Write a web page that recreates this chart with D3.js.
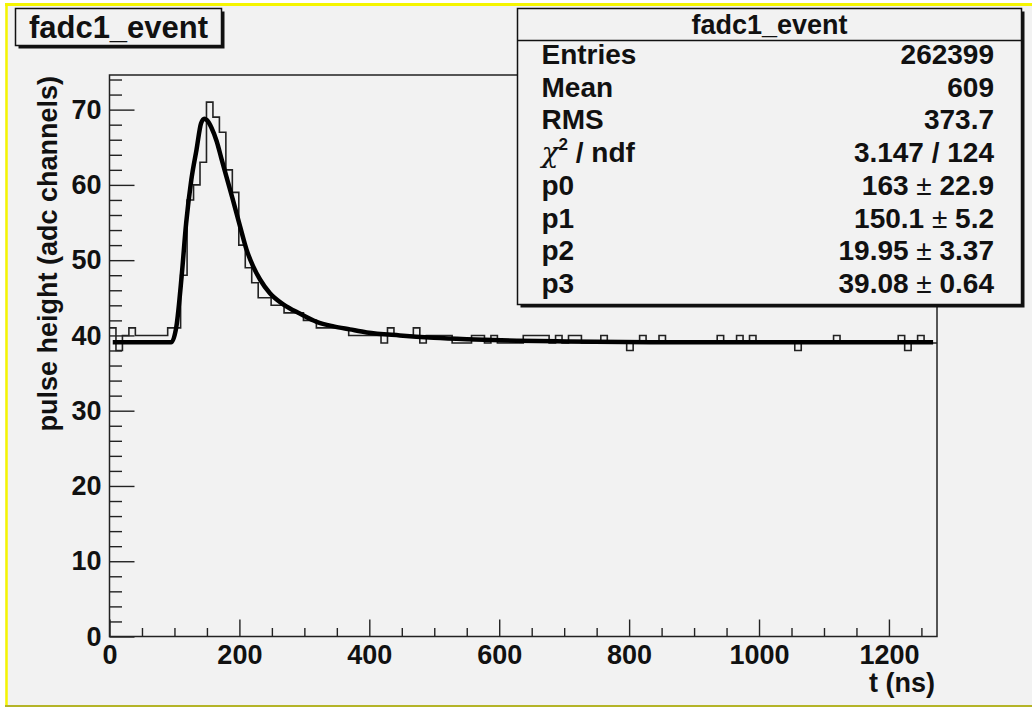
<!DOCTYPE html>
<html>
<head>
<meta charset="utf-8">
<script src="https://cdn.jsdelivr.net/npm/d3@7"></script>
<style>
  body { margin: 0; background: #ffffff; }
  text { font-family: "Liberation Sans", Arial, Helvetica, sans-serif; font-weight: bold; fill: #111; }
</style>
</head>
<body>
<script>
// histogram contents, 128 bins over 0..xMax ns
const binCounts = [
  41, 38, 40, 41, 40, 40, 40, 40, 40, 41,
  41, 48, 58, 60, 63, 71, 69, 67, 62, 59,
  52, 49, 47, 45, 45, 44, 44, 43, 43, 43,
  42, 42, 41, 41, 41, 41, 41, 40, 40, 40,
  40, 40, 39, 41, 40, 40, 40, 41, 39, 40,
  40, 40, 40, 39, 39, 39, 40, 40, 39, 40,
  39, 39, 39, 39, 40, 40, 40, 40, 39, 40,
  39, 40, 40, 39, 39, 39, 40, 39, 39, 39,
  38, 39, 40, 39, 39, 40, 39, 39, 39, 39,
  39, 39, 39, 39, 40, 39, 39, 40, 39, 40,
  39, 39, 39, 39, 39, 39, 38, 39, 39, 39,
  39, 39, 40, 39, 39, 39, 39, 39, 39, 39,
  39, 39, 40, 38, 39, 40, 39, 39
];
const xMax = 1274;
const yMax = 74.6;

// fitted curve
const fitT = [5, 95, 103, 111, 118, 126, 134, 141, 146, 150, 157, 165, 172, 180, 190, 201, 211, 221, 232, 247, 268, 293, 319, 345, 370, 396, 447, 499, 550, 627, 704, 833, 1000, 1268];
const fitV = [39.08, 39.08, 41.2, 47.8, 54.9, 60.7, 64.7, 68.2, 68.8, 68.6, 67.6, 65.8, 63.6, 61.1, 58.0, 54.5, 51.4, 49.2, 47.4, 45.6, 44.1, 42.9, 41.8, 41.2, 40.8, 40.4, 40.0, 39.7, 39.5, 39.3, 39.2, 39.1, 39.08, 39.08];

const xTicks = [0, 200, 400, 600, 800, 1000, 1200];
const yTicks = [0, 10, 20, 30, 40, 50, 60, 70];

const histName = 'fadc1_event';
const xTitle = 't (ns)';
const yTitle = 'pulse height (adc channels)';
const statNames = ['Entries', 'Mean', 'RMS', 'chi2', 'p0', 'p1', 'p2', 'p3'];
const statValues = ['262399', '609', '373.7', '3.147 / 124', '163', '150.1', '19.95', '39.08'];
const statErrors = [null, null, null, null, '22.9', '5.2', '3.37', '0.64'];

const W = 1032, H = 707;
const bg = '#f2f2f2';
const frame = { left: 109.5, right: 937, top: 75, bottom: 636.5 };

const svg = d3.select('body').append('svg')
  .attr('width', W)
  .attr('height', H);

// canvas + yellow pad border
svg.append('rect')
  .attr('x', 5).attr('y', 3)
  .attr('width', W - 5).attr('height', H - 3)
  .attr('fill', bg);
svg.append('line')
  .attr('x1', 5).attr('x2', W).attr('y1', 4.5).attr('y2', 4.5)
  .attr('stroke', '#f5f500').attr('stroke-width', 3);
svg.append('line')
  .attr('x1', 6.5).attr('x2', 6.5).attr('y1', 3).attr('y2', H)
  .attr('stroke', '#f5f500').attr('stroke-width', 2.5);
svg.append('line')
  .attr('x1', 5).attr('x2', W).attr('y1', 706).attr('y2', 706)
  .attr('stroke', '#b4b428').attr('stroke-width', 2);

const x = d3.scaleLinear().domain([0, xMax]).range([frame.left, frame.right]);
const y = d3.scaleLinear().domain([0, yMax]).range([frame.bottom, frame.top]);

// ticks
const fontSize = 27;
svg.append('g')
  .attr('transform', `translate(${frame.left},0)`)
  .call(d3.axisLeft(y).tickValues(yTicks).tickFormat(d3.format('d')).tickSizeInner(-25).tickSizeOuter(0).tickPadding(8))
  .call(g => g.select('.domain').remove())
  .call(g => g.selectAll('text').style('font-size', fontSize + 'px').attr('fill', '#111'))
  .call(g => g.selectAll('line').attr('stroke', '#222').attr('stroke-width', 1.4));
svg.append('g')
  .attr('transform', `translate(${frame.left},0)`)
  .call(d3.axisLeft(y).tickValues(d3.range(0, yMax, 2).filter(v => v % 10 !== 0)).tickSize(-12.5).tickFormat(''))
  .call(g => g.select('.domain').remove())
  .call(g => g.selectAll('line').attr('stroke', '#222').attr('stroke-width', 1.4));

svg.append('g')
  .attr('transform', `translate(0,${frame.bottom})`)
  .call(d3.axisBottom(x).tickValues(xTicks).tickFormat(d3.format('d')).tickSizeInner(-17).tickSizeOuter(0).tickPadding(8))
  .call(g => g.select('.domain').remove())
  .call(g => g.selectAll('text').style('font-size', fontSize + 'px').attr('fill', '#111'))
  .call(g => g.selectAll('line').attr('stroke', '#222').attr('stroke-width', 1.4));
svg.append('g')
  .attr('transform', `translate(0,${frame.bottom})`)
  .call(d3.axisBottom(x).tickValues(d3.range(0, xMax, 50).filter(v => v % 200 !== 0)).tickSize(-8.5).tickFormat(''))
  .call(g => g.select('.domain').remove())
  .call(g => g.selectAll('line').attr('stroke', '#222').attr('stroke-width', 1.4));

// histogram outline
const binW = xMax / binCounts.length;
const steps = binCounts.map((v, i) => [i * binW, v]);
steps.push([xMax, binCounts[binCounts.length - 1]]);
svg.append('path')
  .datum(steps)
  .attr('fill', 'none')
  .attr('stroke', '#222')
  .attr('stroke-width', 1.6)
  .attr('d', d3.line().x(d => x(d[0])).y(d => y(d[1])).curve(d3.curveStepAfter));

// fit curve
svg.append('path')
  .datum(fitT.map((t, i) => [t, fitV[i]]))
  .attr('fill', 'none')
  .attr('stroke', '#000')
  .attr('stroke-width', 4.5)
  .attr('stroke-linejoin', 'round')
  .attr('d', d3.line().x(d => x(d[0])).y(d => y(d[1])).curve(d3.curveMonotoneX));

// frame
svg.append('rect')
  .attr('x', frame.left).attr('y', frame.top)
  .attr('width', frame.right - frame.left).attr('height', frame.bottom - frame.top)
  .attr('fill', 'none').attr('stroke', '#222').attr('stroke-width', 1.5);

// axis titles
svg.append('text')
  .attr('x', frame.right - 2).attr('y', 692)
  .attr('text-anchor', 'end')
  .style('font-size', fontSize + 'px')
  .text(xTitle);
svg.append('text')
  .attr('transform', `translate(57,76) rotate(-90)`)
  .attr('text-anchor', 'end')
  .style('font-size', '27px')
  .text(yTitle);

// title box
svg.append('rect')
  .attr('x', 18.5).attr('y', 11.5).attr('width', 206).attr('height', 37)
  .attr('fill', '#111');
svg.append('rect')
  .attr('x', 15.5).attr('y', 8.5).attr('width', 206).attr('height', 37)
  .attr('fill', bg).attr('stroke', '#111').attr('stroke-width', 1.5);
svg.append('text')
  .attr('x', 118.5).attr('y', 38)
  .attr('text-anchor', 'middle')
  .style('font-size', '31px')
  .text(histName);

// stats box
const sb = { x: 517.5, y: 8.5, w: 504, h: 296 };
svg.append('rect')
  .attr('x', sb.x + 3).attr('y', sb.y + 3).attr('width', sb.w).attr('height', sb.h)
  .attr('fill', '#111');
svg.append('rect')
  .attr('x', sb.x).attr('y', sb.y).attr('width', sb.w).attr('height', sb.h)
  .attr('fill', bg).attr('stroke', '#111').attr('stroke-width', 1.5);
svg.append('line')
  .attr('x1', sb.x).attr('x2', sb.x + sb.w).attr('y1', 40.5).attr('y2', 40.5)
  .attr('stroke', '#111').attr('stroke-width', 1.5);
svg.append('text')
  .attr('x', sb.x + sb.w / 2).attr('y', 33.5)
  .attr('text-anchor', 'middle')
  .style('font-size', '27px')
  .text(histName);

const rowY = i => 64 + i * 32.7;
statNames.forEach((name, i) => {
  const t = svg.append('text')
    .attr('x', 541.5).attr('y', rowY(i))
    .style('font-size', '28px');
  if (name === 'chi2') {
    t.append('tspan').style('font-family', '"DejaVu Serif", serif').style('font-weight', 'normal').style('font-style', 'italic').text('\u03c7');
    t.append('tspan').attr('dy', -12).style('font-size', '17px').text('2');
    t.append('tspan').attr('dy', 12).text(' / ndf');
  } else {
    t.text(name);
  }
  const v = svg.append('text')
    .attr('x', 994).attr('y', rowY(i))
    .attr('text-anchor', 'end')
    .style('font-size', '28px');
  if (statErrors[i] !== null) {
    v.append('tspan').text(statValues[i] + ' ');
    v.append('tspan').style('font-weight', 'normal').text('\u00b1');
    v.append('tspan').text(' ' + statErrors[i]);
  } else {
    v.text(statValues[i]);
  }
});
</script>
</body>
</html>
